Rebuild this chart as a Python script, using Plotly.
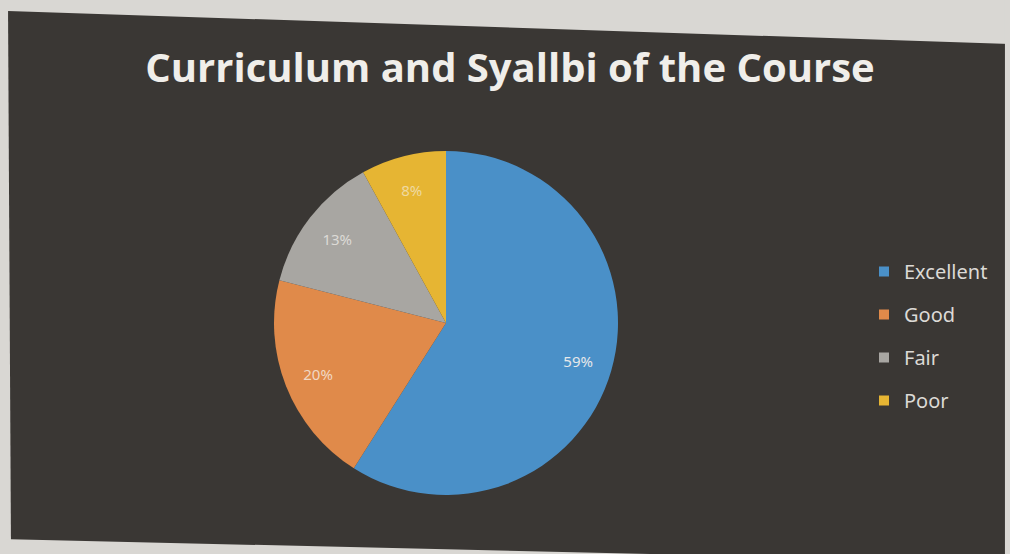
import plotly.graph_objects as go

categories = ["Excellent", "Good", "Fair", "Poor"]
values = [59, 20, 13, 8]
colors = ["#4a90c8", "#e08a4a", "#a8a6a2", "#e6b533"]
text_colors = ["#e6e8ea", "#f0d8c4", "#dcdad6", "#efd9a0"]
title_text = "Curriculum and Syallbi of the Course"

W, H = 1010, 554
cx, cy, r = 446, 323, 172
dom = dict(x=[(cx - r) / W, (cx + r) / W], y=[1 - (cy + r) / H, 1 - (cy - r) / H])

fig = go.Figure()
# main pie (slices)
fig.add_trace(go.Pie(
    labels=categories, values=values, sort=False, direction="clockwise", rotation=0,
    marker=dict(colors=colors, line=dict(width=0)),
    textinfo="none", domain=dom, showlegend=False, hoverinfo="label+percent",
))
# transparent ring on top, used only to place percentage labels at ~0.8 radius
fig.add_trace(go.Pie(
    labels=categories, values=values, sort=False, direction="clockwise", rotation=0,
    hole=0.6,
    marker=dict(colors=["rgba(0,0,0,0)"] * len(values), line=dict(width=0)),
    texttemplate="%{percent:.0%}", textposition="inside",
    insidetextorientation="horizontal",
    textfont=dict(family="Noto Sans", size=15, color=text_colors),
    domain=dom, showlegend=False, hoverinfo="skip",
))
# legend entries
for i, (name, col) in enumerate(zip(categories, colors)):
    fig.add_trace(go.Scatter(
        x=[None], y=[None], mode="markers", name=name,
        marker=dict(symbol="square", size=10, color=col),
        legendgroup="g%d" % i, showlegend=True,
    ))


def px(x, y):
    return x / W, 1 - y / H


def path(points):
    s = ""
    for k, (x, y) in enumerate(points):
        fx, fy = px(x, y)
        s += ("M" if k == 0 else "L") + " %.4f %.4f " % (fx, fy)
    return s + "Z"


light = "#d9d7d3"
shapes = [
    dict(type="path", xref="paper", yref="paper",
         path=path([(0, 0), (W, 0), (W, 44), (8, 11), (0, 11)]),
         fillcolor=light, line=dict(width=0), layer="below"),
    dict(type="path", xref="paper", yref="paper",
         path=path([(0, 0), (8, 0), (11, H), (0, H)]),
         fillcolor=light, line=dict(width=0), layer="below"),
    dict(type="path", xref="paper", yref="paper",
         path=path([(0, 539), (650, H), (0, H)]),
         fillcolor=light, line=dict(width=0), layer="below"),
    dict(type="path", xref="paper", yref="paper",
         path=path([(1005, 0), (W, 0), (W, H), (1005, H)]),
         fillcolor=light, line=dict(width=0), layer="below"),
]

fig.update_layout(
    width=W, height=H,
    margin=dict(l=0, r=0, t=0, b=0),
    paper_bgcolor="#3a3734",
    plot_bgcolor="rgba(0,0,0,0)",
    xaxis=dict(visible=False),
    yaxis=dict(visible=False),
    shapes=shapes,
    title=dict(text="<b>" + title_text + "</b>", x=510 / W, xanchor="center",
               y=1 - 68 / H, yanchor="middle",
               font=dict(family="Open Sans", size=40, color="#f0eeea")),
    showlegend=True,
    legend=dict(x=864 / W, y=1 - 252 / H, xanchor="left", yanchor="top",
                font=dict(family="Noto Sans", size=20, color="#dcdad6"),
                bgcolor="rgba(0,0,0,0)", itemwidth=30, tracegroupgap=14,
                traceorder="grouped"),
)

fig.write_html("out.html", config={"displayModeBar": False},
               post_script="document.body.style.margin='0';")
